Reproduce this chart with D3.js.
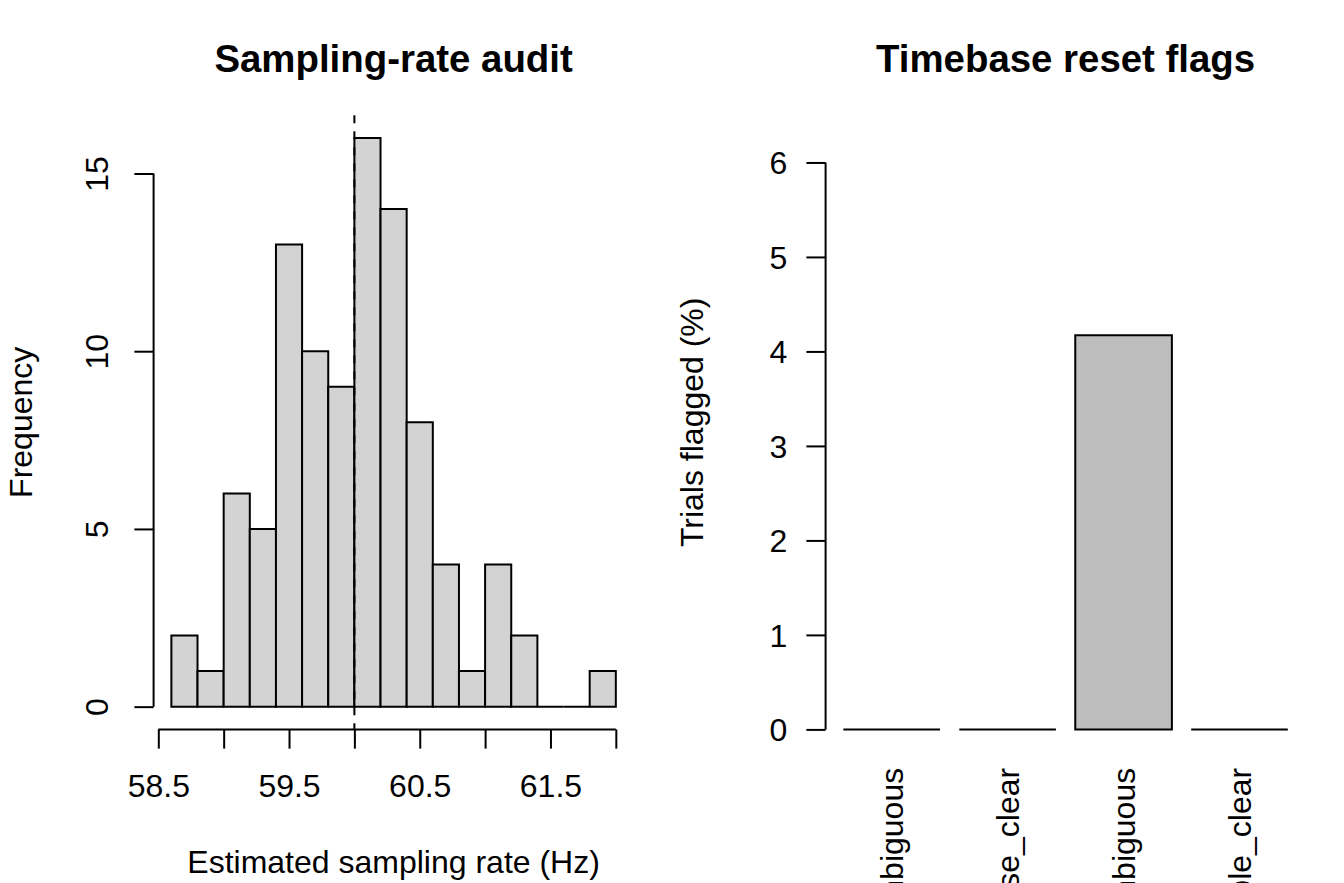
<!DOCTYPE html>
<html>
<head>
<meta charset="utf-8">
<script src="https://cdn.jsdelivr.net/npm/d3@7"></script>
<style>
	html, body { margin: 0; padding: 0; background: #ffffff; }
	svg { display: block; }
	text { font-family: "Liberation Sans", Arial, Helvetica, sans-serif; fill: #000000; }
</style>
</head>
<body>
<svg id="chart" width="1344" height="883"></svg>
<script>
/* Chart data */
const binEdges = [58.6, 58.8, 59.0, 59.2, 59.4, 59.6, 59.8, 60.0, 60.2, 60.4, 60.6, 60.8, 61.0, 61.2, 61.4, 61.6, 61.8, 62.0];
const binCounts = [2, 1, 6, 5, 13, 10, 9, 16, 14, 8, 4, 1, 4, 2, 0, 0, 1];
const rateTicks = [58.5, 59.0, 59.5, 60.0, 60.5, 61.0, 61.5, 62.0];
const rateTickLabels = ["58.5", "", "59.5", "", "60.5", "", "61.5", ""];
const countTicks = [0, 5, 10, 15];
const nominalRate = 60;

const flagCategories = ["pause_ambiguous", "pause_clear", "stable_ambiguous", "stable_clear"];
const flagPercent = [0, 0, 4.17, 0];
const percentTicks = [0, 1, 2, 3, 4, 5, 6];
const percentLimits = [0, 6.5];

/* Layout, in R "lines" */
const W = 1344;
const H = 883;
const LINE = 38.4;
const FONT = 32;
const panelWidth = W / 2;
const tickLen = LINE / 2;

let svg = d3.select("#chart");
svg.append("rect").attr("width", W).attr("height", H).attr("fill", "#ffffff");

/**
 * Plot region for one panel of the 1 x 2 layout (mar = c(4, 4, 3, 1)).
 *
 * @param {number} col - Panel column.
 * @returns {Object}
 */
function plotBox(col) {
	return {
		left: col * panelWidth + 4 * LINE,
		right: col * panelWidth + panelWidth - LINE,
		top: 3 * LINE,
		bottom: H - 4 * LINE
	};
}

// Extend a range by 4% on each side, like R's xaxs = "r"
function padRange(lo, hi) {
	let ext = (hi - lo) * 0.04;
	return [lo - ext, hi + ext];
}

function barPath(x0, x1, y0, y1) {
	return "M" + x0 + "," + y0 + "V" + y1 + "H" + x1 + "V" + y0 + "Z";
}

function styleAxisText(g) {
	g.attr("font-family", null).attr("font-size", null);
	g.selectAll("text").attr("font-size", FONT).attr("fill", "#000");
	g.selectAll(".tick line").attr("stroke", "#000").attr("stroke-width", 2);
	g.select(".domain").remove();
}

/* ---------- Left panel: histogram ---------- */
let boxL = plotBox(0);

let xRate = d3.scaleLinear()
	.domain(padRange(binEdges[0], binEdges[binEdges.length - 1]))
	.range([boxL.left, boxL.right]);

let yCount = d3.scaleLinear()
	.domain(padRange(0, d3.max(binCounts)))
	.range([boxL.bottom, boxL.top]);

let hist = svg.append("g").attr("class", "hist");

hist.selectAll("path.bin")
	.data(binCounts)
	.enter()
	.append("path")
	.attr("class", "bin")
	.attr("d", function(d, i) {
		return barPath(xRate(binEdges[i]), xRate(binEdges[i + 1]), yCount(0), yCount(d));
	})
	.attr("fill", "#d3d3d3")
	.attr("stroke", "#000")
	.attr("stroke-width", 2);

// Reference line at the nominal rate
hist.append("line")
	.attr("x1", xRate(nominalRate))
	.attr("x2", xRate(nominalRate))
	.attr("y1", boxL.top)
	.attr("y2", boxL.bottom)
	.attr("stroke", "#000")
	.attr("stroke-width", 2)
	.attr("stroke-dasharray", "8,8");

// x axis
let xAxisL = hist.append("g")
	.attr("transform", "translate(0," + boxL.bottom + ")")
	.call(d3.axisBottom(xRate)
		.tickValues(rateTicks)
		.tickSize(tickLen)
		.tickFormat(function(d, i) { return rateTickLabels[i]; }));
styleAxisText(xAxisL);
xAxisL.selectAll("text").attr("y", 1.75 * LINE).attr("dy", null).attr("text-anchor", "middle");
xAxisL.append("line")
	.attr("x1", xRate(rateTicks[0]))
	.attr("x2", xRate(rateTicks[rateTicks.length - 1]))
	.attr("stroke", "#000")
	.attr("stroke-width", 2);

// y axis, labels parallel to the axis
let yAxisL = hist.append("g")
	.attr("transform", "translate(" + boxL.left + ",0)")
	.call(d3.axisLeft(yCount).tickValues(countTicks).tickSize(tickLen).tickFormat(d3.format("d")));
styleAxisText(yAxisL);
yAxisL.selectAll("text")
	.attr("x", null)
	.attr("dy", null)
	.attr("text-anchor", "middle")
	.attr("transform", "translate(" + (-1.2 * LINE) + ",0) rotate(-90)");
yAxisL.append("line")
	.attr("y1", yCount(countTicks[0]))
	.attr("y2", yCount(countTicks[countTicks.length - 1]))
	.attr("stroke", "#000")
	.attr("stroke-width", 2);

hist.append("text")
	.attr("x", (boxL.left + boxL.right) / 2)
	.attr("y", 72)
	.attr("text-anchor", "middle")
	.attr("font-size", FONT * 1.2)
	.attr("font-weight", "bold")
	.text("Sampling-rate audit");

hist.append("text")
	.attr("x", (boxL.left + boxL.right) / 2)
	.attr("y", boxL.bottom + 3.75 * LINE)
	.attr("text-anchor", "middle")
	.attr("font-size", FONT)
	.text("Estimated sampling rate (Hz)");

hist.append("text")
	.attr("transform", "translate(" + (boxL.left - 3.17 * LINE) + "," + ((boxL.top + boxL.bottom) / 2) + ") rotate(-90)")
	.attr("text-anchor", "middle")
	.attr("font-size", FONT)
	.text("Frequency");

/* ---------- Right panel: bar chart ---------- */
let boxR = plotBox(1);

// barplot geometry: width 1, space 0.2, usr range padded by 4%
let xFlag = d3.scaleBand()
	.domain(flagCategories)
	.range([boxR.left, boxR.right])
	.paddingInner(0.2 / 1.2)
	.paddingOuter(0.184 / 1.2);

let yPct = d3.scaleLinear()
	.domain(percentLimits)
	.range([boxR.bottom, boxR.top]);

let bars = svg.append("g").attr("class", "flags");

bars.selectAll("path.bar")
	.data(flagPercent)
	.enter()
	.append("path")
	.attr("class", "bar")
	.attr("d", function(d, i) {
		let x0 = xFlag(flagCategories[i]);
		return barPath(x0, x0 + xFlag.bandwidth(), yPct(0), yPct(d));
	})
	.attr("fill", "#bebebe")
	.attr("stroke", "#000")
	.attr("stroke-width", 2);

let yAxisR = bars.append("g")
	.attr("transform", "translate(" + boxR.left + ",0)")
	.call(d3.axisLeft(yPct).tickValues(percentTicks).tickSize(tickLen).tickFormat(d3.format("d")));
styleAxisText(yAxisR);
yAxisR.selectAll("text")
	.attr("x", -LINE)
	.attr("dy", "0.36em")
	.attr("text-anchor", "end");
yAxisR.append("line")
	.attr("y1", yPct(percentTicks[0]))
	.attr("y2", yPct(percentTicks[percentTicks.length - 1]))
	.attr("stroke", "#000")
	.attr("stroke-width", 2);

// Category names, perpendicular to the axis (las = 2); the device cuts them at the bottom edge
bars.selectAll("text.cat")
	.data(flagCategories)
	.enter()
	.append("text")
	.attr("class", "cat")
	.attr("transform", function(d) {
		return "translate(" + (xFlag(d) + xFlag.bandwidth() / 2) + "," + (boxR.bottom + LINE) + ") rotate(-90)";
	})
	.attr("dy", "0.36em")
	.attr("text-anchor", "end")
	.attr("font-size", FONT)
	.text(function(d) { return d; });

bars.append("text")
	.attr("x", (boxR.left + boxR.right) / 2)
	.attr("y", 72)
	.attr("text-anchor", "middle")
	.attr("font-size", FONT * 1.2)
	.attr("font-weight", "bold")
	.text("Timebase reset flags");

bars.append("text")
	.attr("transform", "translate(" + (boxR.left - 3.2 * LINE) + "," + ((boxR.top + boxR.bottom) / 2) + ") rotate(-90)")
	.attr("text-anchor", "middle")
	.attr("font-size", FONT)
	.text("Trials flagged (%)");
</script>
</body>
</html>
